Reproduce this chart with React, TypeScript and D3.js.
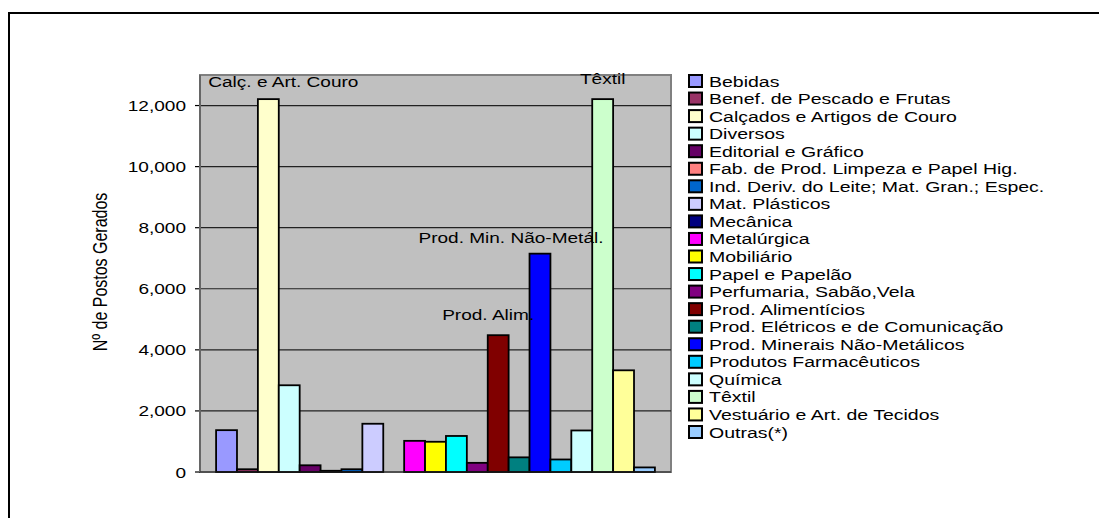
import React from 'react';
import * as d3 from 'd3';

const categories = [
  'Bebidas',
  'Benef. de Pescado e Frutas',
  'Calçados e Artigos de Couro',
  'Diversos',
  'Editorial e Gráfico',
  'Fab. de Prod. Limpeza e Papel Hig.',
  'Ind. Deriv. do Leite; Mat. Gran.; Espec.',
  'Mat. Plásticos',
  'Mecânica',
  'Metalúrgica',
  'Mobiliário',
  'Papel e Papelão',
  'Perfumaria, Sabão,Vela',
  'Prod. Alimentícios',
  'Prod. Elétricos e de Comunicação',
  'Prod. Minerais Não-Metálicos',
  'Produtos Farmacêuticos',
  'Química',
  'Têxtil',
  'Vestuário e Art. de Tecidos',
  'Outras(*)',
];

const values = [
  1370, 90, 12210, 2840, 220, 40, 90, 1580, 0, 1020, 990,
  1180, 300, 4480, 480, 7150, 410, 1360, 12210, 3330, 150,
];

const colors = [
  '#9999FF', '#993366', '#FFFFCC', '#CCFFFF', '#660066', '#FF8080', '#0066CC',
  '#CCCCFF', '#000080', '#FF00FF', '#FFFF00', '#00FFFF', '#800080', '#800000',
  '#008080', '#0000FF', '#00CCFF', '#CCFFFF', '#CCFFCC', '#FFFF99', '#99CCFF',
];

const yTicks = [0, 2000, 4000, 6000, 8000, 10000, 12000];

// data labels shown above a few of the bars
const barLabels = [
  { category: 'Calçados e Artigos de Couro', text: 'Calç. e Art. Couro' },
  { category: 'Prod. Alimentícios', text: 'Prod. Alim.' },
  { category: 'Prod. Minerais Não-Metálicos', text: 'Prod. Min. Não-Metál.' },
  { category: 'Têxtil', text: 'Têxtil' },
];

// nudges for the labels (pixels), matching the hand-placed labels of the original
const labelNudge: Record<string, [number, number]> = {
  'Calç. e Art. Couro': [15, -12],
  'Prod. Alim.': [-10, -15],
  'Prod. Min. Não-Metál.': [-29, -11],
  'Têxtil': [0, -15],
};

const W = 1099;
const H = 518;
const plot = { left: 200, right: 671, top: 75, bottom: 472 };
const STRETCH = 1.27;
const FONT = '"Liberation Sans", Arial, sans-serif';

const SText = ({ x, y, anchor = 'start', stretch = STRETCH, children }: any) => (
  <g transform={`translate(${x},${y}) scale(${stretch},1)`}>
    <text textAnchor={anchor} fontSize={15} fill="#000" fontFamily={FONT}>
      {children}
    </text>
  </g>
);

const App = () => {
  const x = d3.scaleBand<string>()
    .domain(categories)
    .range([plot.left, plot.right])
    .paddingInner(0)
    .paddingOuter(0.77);
  const y = d3.scaleLinear().domain([0, 13000]).range([plot.bottom, plot.top]);
  const fmt = d3.format(',');
  const legendY = d3.scalePoint<string>().domain(categories).range([81, 432]);

  return (
    <svg
      width={W}
      height={H}
      style={{ position: 'absolute', left: 0, top: 0, background: '#fff' }}
    >
      {/* outer frame */}
      <line x1={8} x2={W} y1={13} y2={13} stroke="#000" strokeWidth={2} />
      <line x1={9} x2={9} y1={13} y2={H} stroke="#000" strokeWidth={2} />

      {/* plot area */}
      <rect
        x={plot.left}
        y={plot.top}
        width={plot.right - plot.left}
        height={plot.bottom - plot.top}
        fill="#C0C0C0"
        stroke="#808080"
        strokeWidth={2}
      />

      {yTicks.map(t => (
        <g key={t}>
          {t > 0 && (
            <line x1={plot.left} x2={plot.right} y1={y(t)} y2={y(t)} stroke="#222" strokeWidth={1.2} />
          )}
          <line x1={plot.left - 5} x2={plot.left} y1={y(t)} y2={y(t)} stroke="#000" strokeWidth={1.2} />
          <SText x={186} y={y(t) + 5.5} anchor="end">{fmt(t)}</SText>
        </g>
      ))}

      <line x1={plot.left} x2={plot.left} y1={plot.top} y2={plot.bottom} stroke="#666" strokeWidth={2} />

      {/* bars */}
      {categories.map((c, i) =>
        values[i] > 0 ? (
          <rect
            key={c}
            x={x(c)}
            y={y(values[i])}
            width={x.bandwidth()}
            height={y(0) - y(values[i])}
            fill={colors[i]}
            stroke="#000"
            strokeWidth={1.8}
          />
        ) : null
      )}
      <line x1={plot.left} x2={plot.right} y1={plot.bottom} y2={plot.bottom} stroke="#222" strokeWidth={1.2} />

      {barLabels.map(l => {
        const i = categories.indexOf(l.category);
        const [dx, dy] = labelNudge[l.text];
        return (
          <SText key={l.text} x={(x(l.category) as number) + x.bandwidth() / 2 + dx} y={y(values[i]) + dy} anchor="middle">
            {l.text}
          </SText>
        );
      })}

      {/* y axis title */}
      <g transform={`translate(107,272) scale(${STRETCH},1) rotate(-90)`}>
        <text textAnchor="middle" fontSize={16} fill="#000" fontFamily={FONT}>
          Nº de Postos Gerados
        </text>
      </g>

      {/* legend */}
      {categories.map((c, i) => (
        <g key={c}>
          <rect
            x={689}
            y={(legendY(c) as number) - 6}
            width={13}
            height={12}
            fill={colors[i]}
            stroke="#000"
            strokeWidth={2}
          />
          <SText x={709} y={(legendY(c) as number) + 5.5} stretch={1.3}>{c}</SText>
        </g>
      ))}
    </svg>
  );
};

export default App;
